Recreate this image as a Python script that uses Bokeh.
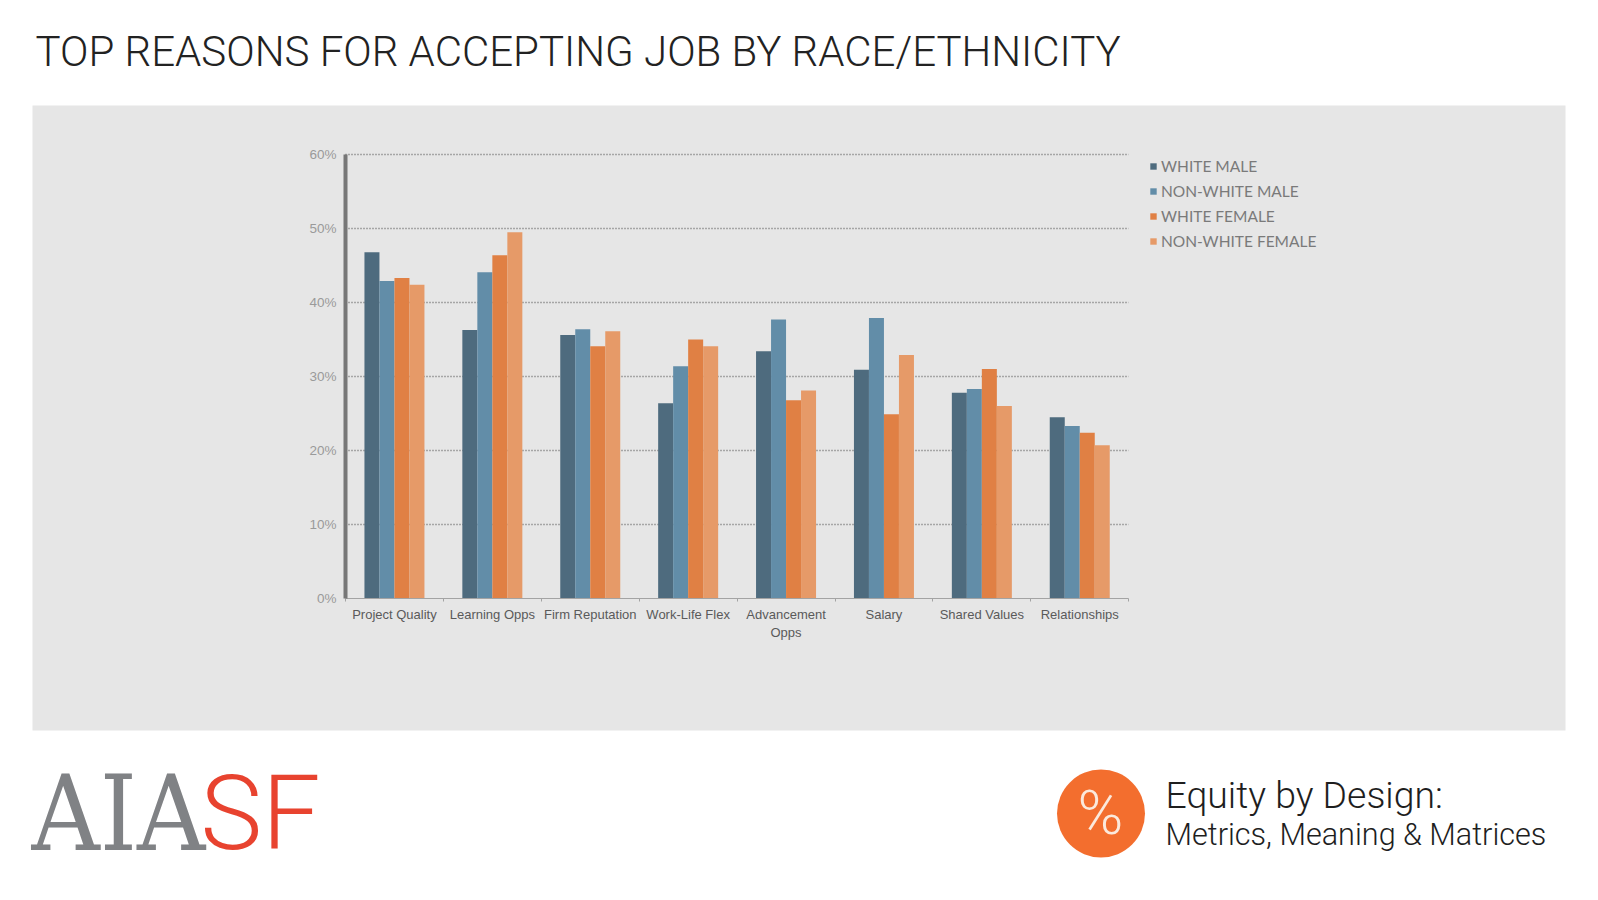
from bokeh.plotting import figure
from bokeh.embed import file_html
from bokeh.resources import INLINE
from bokeh.models import (Range1d, FixedTicker, LinearAxis, Label, BoxAnnotation,
                          Legend, LegendItem, ColumnDataSource)
from bokeh.transform import dodge

categories = ["Project Quality", "Learning Opps", "Firm Reputation", "Work-Life Flex",
              "Advancement\nOpps", "Salary", "Shared Values", "Relationships"]
white_male = [46.8, 36.3, 35.6, 26.4, 33.4, 30.9, 27.8, 24.5]
non_white_male = [42.9, 44.1, 36.4, 31.4, 37.7, 37.9, 28.3, 23.3]
white_female = [43.3, 46.4, 34.1, 35.0, 26.8, 24.9, 31.0, 22.4]
non_white_female = [42.4, 49.5, 36.1, 34.1, 28.1, 32.9, 26.0, 20.7]
series_names = ["WHITE MALE", "NON-WHITE MALE", "WHITE FEMALE", "NON-WHITE FEMALE"]
series_colors = ["#4E6B7E", "#628DA8", "#E08044", "#E69A68"]
y_ticks = [0, 10, 20, 30, 40, 50, 60]
y_tick_labels = ["0%", "10%", "20%", "30%", "40%", "50%", "60%"]

W, H = 1582, 884
n = len(categories)
# the plot frame fills the canvas; the ranges place the chart inside the grey panel
PX0, PY0, PXU, PYU = 345.0, 598.0, 97.9, 7.4

p = figure(width=W, height=H, output_backend="svg", toolbar_location=None,
           x_range=Range1d(-PX0 / PXU, (W - PX0) / PXU),
           y_range=Range1d((PY0 - H) / PYU, PY0 / PYU),
           x_axis_location=None, y_axis_location=None,
           min_border=0, background_fill_color="#FFFFFF", border_fill_color="#FFFFFF",
           outline_line_color=None)
p.grid.visible = False

panel = BoxAnnotation(left=32, right=1565, top=105, bottom=730,
                      left_units="canvas", right_units="canvas", top_units="canvas", bottom_units="canvas",
                      fill_color="#E6E6E6", fill_alpha=1, line_color=None, level="image", editable=False)
p.add_layout(panel)

grid_r = p.segment(x0=[0] * 6, x1=[n] * 6, y0=y_ticks[1:], y1=y_ticks[1:], level="underlay",
                   line_color="#666666", line_width=1.5)
grid_r.glyph.line_dash = [1, 2]

centres = [i + 0.5 for i in range(n)]
src = ColumnDataSource(dict(pos=centres, wm=white_male, nwm=non_white_male,
                            wf=white_female, nwf=non_white_female))
bw = 15 / PXU
items = []
for i, (key, name, col) in enumerate(zip(["wm", "nwm", "wf", "nwf"], series_names, series_colors)):
    r = p.vbar(x=dodge("pos", (i - 1.5) * bw), top=key, width=bw, source=src,
               fill_color=col, line_color=None)
    items.append(LegendItem(label=name, renderers=[r]))

xax = LinearAxis(fixed_location=0, bounds=(0, n),
                 ticker=FixedTicker(ticks=centres, minor_ticks=list(range(n + 1))),
                 major_label_overrides=dict(zip(centres, categories)))
xax.axis_line_color = "#A3A3A3"
xax.axis_line_width = 1
xax.major_tick_line_color = None
xax.major_tick_out = 0
xax.major_tick_in = 0
xax.minor_tick_line_color = "#A3A3A3"
xax.minor_tick_out = 3
xax.minor_tick_in = 0
xax.major_label_text_font = "Liberation Sans"
xax.major_label_text_font_size = "13px"
xax.major_label_text_color = "#5A5A5A"
xax.major_label_standoff = 5
p.add_layout(xax, "below")

yax = LinearAxis(fixed_location=0, bounds=(0, 60), ticker=FixedTicker(ticks=y_ticks),
                 major_label_overrides=dict(zip(y_ticks, y_tick_labels)))
yax.axis_line_color = "#777777"
yax.axis_line_width = 4
yax.major_tick_line_color = None
yax.major_tick_out = 0
yax.major_tick_in = 0
yax.minor_tick_line_color = None
yax.major_label_text_font = "Liberation Sans"
yax.major_label_text_font_size = "13.5px"
yax.major_label_text_color = "#9A9A9A"
yax.major_label_standoff = 9
p.add_layout(yax, "left")

legend = Legend(items=items, location=(1149, H - 250), orientation="vertical",
                glyph_width=8, glyph_height=8, label_standoff=4, spacing=7, padding=0, margin=0,
                label_height=12, background_fill_alpha=0, border_line_color=None,
                label_text_font="Lato", label_text_font_size="15.5px", label_text_color="#7A7A7A")
p.add_layout(legend, "center")


def text(s, x, y, font, size, color, align="left"):
    # y is the wanted baseline; labels in this layout sit about 0.39 em below their anchor
    p.add_layout(Label(x=x, y=y - 0.39 * size, x_units="canvas", y_units="canvas", text=s, text_font=font,
                       text_font_size=f"{size}px", text_color=color, text_align=align,
                       text_baseline="alphabetic"))


text("TOP REASONS FOR ACCEPTING JOB BY RACE/ETHNICITY", 35, 67, "Roboto Light", 42, "#222222")
text("AIA", 31, 854, "DejaVu Serif Condensed", 105, "#808285")
text("SF", 200, 854, "Roboto Light", 104, "#E8432F")

circle = BoxAnnotation(left=1056.5, right=1144.5, top=769, bottom=857,
                       left_units="canvas", right_units="canvas", top_units="canvas", bottom_units="canvas",
                       fill_color="#F36E2E", fill_alpha=1, line_color=None, border_radius=44, editable=False)
p.add_layout(circle)
text("%", 1100, 836, "Roboto Light", 62, "#FBE9DC", align="center")
text("Equity by Design:", 1165, 809, "Roboto Light", 37.4, "#1E1E1E")
text("Metrics, Meaning & Matrices", 1165, 846, "Roboto Light", 30.6, "#1E1E1E")

open("out.html", "w").write(file_html(p, INLINE))
